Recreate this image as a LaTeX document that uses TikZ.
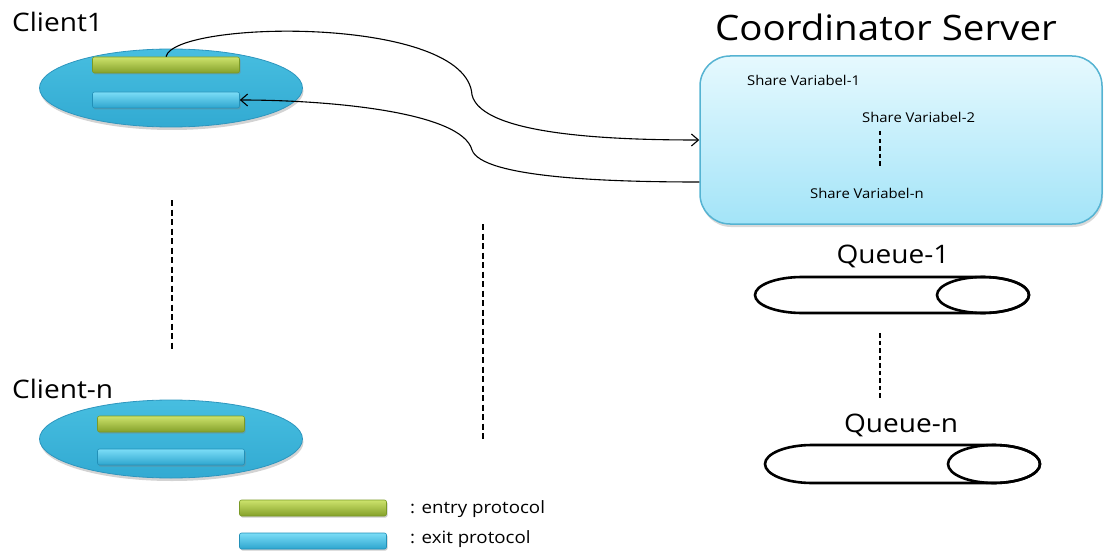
\documentclass[tikz,border=0pt]{standalone}
\usepackage{fontspec}
\setmainfont[FakeStretch=1.1]{Open Sans}
\usetikzlibrary{arrows.meta,shapes.geometric,shadows,calc}

\definecolor{ellTop}{HTML}{47BEE0}
\definecolor{ellBot}{HTML}{32AAD2}
\definecolor{ellLine}{HTML}{2E96BE}
\definecolor{grnTop}{HTML}{CDE36C}
\definecolor{grnMid}{HTML}{A7C33A}
\definecolor{grnBot}{HTML}{84A02A}
\definecolor{grnLine}{HTML}{7A9A26}
\definecolor{bluTop}{HTML}{7CDDF7}
\definecolor{bluMid}{HTML}{46C3E7}
\definecolor{bluBot}{HTML}{2DA5CE}
\definecolor{bluLine}{HTML}{2290B8}
\definecolor{srvTop}{HTML}{E6F9FE}
\definecolor{srvBot}{HTML}{A3E4F8}
\definecolor{srvLine}{HTML}{55B3D2}

\tikzset{
  client/.style={ellipse, minimum width=263pt, minimum height=78pt, inner sep=0pt,
    top color=ellTop, bottom color=ellBot, draw=ellLine, line width=0.8pt,
    drop shadow={opacity=0.35, shadow xshift=1pt, shadow yshift=-3pt}},
  bar/.style={rectangle, rounded corners=2pt, minimum width=147pt, minimum height=16pt,
    inner sep=0pt, line width=0.6pt,
    drop shadow={opacity=0.4, shadow xshift=1pt, shadow yshift=-1.5pt}},
  entrybar/.style={bar, top color=grnTop, middle color=grnMid, bottom color=grnBot, draw=grnLine},
  exitbar/.style={bar, top color=bluTop, middle color=bluMid, bottom color=bluBot, draw=bluLine},
  server/.style={rectangle, rounded corners=30pt, minimum width=402pt, minimum height=168pt,
    inner sep=0pt, top color=srvTop, bottom color=srvBot, draw=srvLine, line width=1.5pt,
    drop shadow={opacity=0.3, shadow xshift=1pt, shadow yshift=-3pt}},
  bigtitle/.style={font=\fontsize{25.5}{28}\selectfont, inner sep=0pt},
  srvtitle/.style={font=\fontsize{35}{38}\selectfont, inner sep=0pt},
  vartext/.style={font=\fontsize{13.5}{15}\selectfont, inner sep=0pt, anchor=west},
  legtext/.style={font=\fontsize{17}{19}\selectfont, inner sep=0pt, anchor=west},
  gap/.style={line width=1.8pt, dash pattern=on 6pt off 3.5pt},
  link/.style={line width=1.1pt, -{Straight Barb[length=7pt,width=12pt,line width=1.1pt]}},
  queueline/.style={line width=2.6pt, fill=white},
}

\begin{document}
\begin{tikzpicture}[x=1pt, y=-1pt]
  \useasboundingbox (0,0) rectangle (1105,559);

  % clients
  \node[client] (c1) at (171,88) {};
  \node[entrybar] (g1) at (166,65) {};
  \node[exitbar] (b1) at (166,100) {};
  \node[bigtitle, anchor=west] (c1t) at (12,22) {Client1};

  \node[client] (cn) at (171,439) {};
  \node[entrybar] (gn) at (171,424) {};
  \node[exitbar] (bn) at (171,457) {};
  \node[bigtitle, anchor=west] (cnt) at (12,389) {Client-n};

  % coordinator server
  \node[srvtitle] (st) at (886,27) {Coordinator Server};
  \node[server] (srv) at (901,140) {};
  \node[vartext] (sv1) at (747,80) {Share Variabel-1};
  \node[vartext] (sv2) at (862,117) {Share Variabel-2};
  \node[vartext] (svn) at (810,193) {Share Variabel-n};
  \coordinate (d1) at (880,131);
  \coordinate (d2) at (880,166);
  \draw[line width=1.4pt, dash pattern=on 4.5pt off 3pt] (d1) -- (d2);

  % queues
  \node[bigtitle] (q1t) at (893,256) {Queue-1};
  \draw[queueline] (983,277) -- (802,277)
      arc[start angle=270, end angle=90, x radius=47, y radius=18]
      -- (983,313) arc[start angle=90, end angle=-90, x radius=46, y radius=18];
  \draw[line width=2.6pt] (983,295) ellipse[x radius=46, y radius=18];

  \node[bigtitle] (qnt) at (901,425) {Queue-n};
  \draw[queueline] (994,445) -- (812,445)
      arc[start angle=270, end angle=90, x radius=47, y radius=19]
      -- (994,483) arc[start angle=90, end angle=-90, x radius=46, y radius=19];
  \draw[line width=2.6pt] (994,464) ellipse[x radius=46, y radius=19];

  % "and so on" marks
  \coordinate (v1a) at (172,200);
  \coordinate (v1b) at (172,351);
  \draw[gap] (v1a) -- (v1b);
  \coordinate (v2a) at (483,224);
  \coordinate (v2b) at (483,442);
  \draw[gap] (v2a) -- (v2b);
  \coordinate (v3a) at (880,333);
  \coordinate (v3b) at (880,398);
  \draw[line width=1.4pt, dash pattern=on 4.5pt off 3pt] (v3a) -- (v3b);

  % request and reply
  \coordinate (bend1) at (472,95);
  \coordinate (bend2) at (472,150);
  \draw[link] (g1.north) .. controls (174,20) and (467,15) .. (bend1)
      .. controls (482,135) and (610,140) .. (srv.west);
  \draw[link] ([yshift=-42pt]srv.west) .. controls (610,182) and (482,178) .. (bend2)
      .. controls (462,112) and (330,100) .. (b1.east);

  % legend
  \node[entrybar] (lg) at (313,508) {};
  \node[exitbar] (lb) at (313,541) {};
  \node[legtext] (lgt) at (410,509) {: entry protocol};
  \node[legtext] (lbt) at (410,539) {: exit protocol};
\end{tikzpicture}
\end{document}
